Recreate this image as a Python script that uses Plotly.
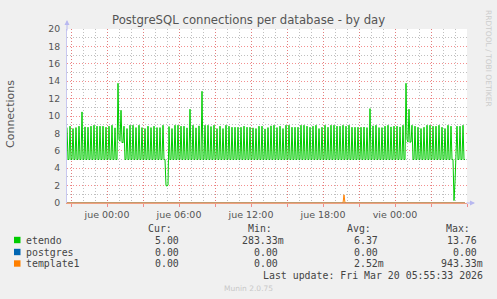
import plotly.graph_objects as go
import pandas as pd

# ---------------- data (5-minute samples) ----------------
start_time = "2026-03-18 20:40"
end_time = "2026-03-20 06:00"

etendo = [
    8.67, 5, 5, 8.83, 5, 5, 8.56, 5, 5, 8.67, 5, 5,
    8.83, 5, 5, 10.47, 5, 5, 8.75, 5, 5, 8.71, 5, 5,
    8.83, 5, 5, 8.94, 5, 5, 8.83, 5, 5, 8.83, 5, 5,
    8.83, 5, 5, 8.71, 5, 5, 8.83, 5, 5, 8.94, 5, 5,
    8.64, 5, 5, 13.76, 7.3, 7.1, 10.66, 7.0, 6.9, 8.83, 5, 5,
    8.56, 5, 5, 8.94, 5, 5, 8.94, 5, 5, 8.67, 5, 5,
    8.94, 5, 5, 8.67, 5, 5, 8.56, 5, 5, 8.83, 5, 5,
    8.67, 5, 5, 8.83, 5, 5, 8.67, 5, 5, 8.67, 5, 5,
    8.94, 5, 5, 2.0, 1.95, 2.05, 8.79, 5, 5, 8.56, 5, 5,
    8.94, 5, 5, 8.94, 5, 5, 8.83, 5, 5, 8.83, 5, 5,
    8.64, 5, 5, 10.78, 5, 5, 8.94, 5, 5, 8.64, 5, 5,
    8.87, 5, 5, 12.84, 5, 5, 8.94, 5, 5, 8.94, 5, 5,
    8.79, 5, 5, 8.94, 5, 5, 8.56, 5, 5, 8.83, 5, 5,
    8.56, 5, 5, 8.94, 5, 5, 8.83, 5, 5, 8.71, 5, 5,
    8.71, 5, 5, 8.71, 5, 5, 8.71, 5, 5, 8.83, 5, 5,
    8.71, 5, 5, 8.71, 5, 5, 8.64, 5, 5, 8.56, 5, 5,
    8.83, 5, 5, 8.83, 5, 5, 8.52, 5, 5, 8.67, 5, 5,
    8.87, 5, 5, 8.94, 5, 5, 8.67, 5, 5, 8.83, 5, 5,
    8.56, 5, 5, 8.94, 5, 5, 8.94, 5, 5, 8.71, 5, 5,
    8.71, 5, 5, 8.71, 5, 5, 8.94, 5, 5, 8.94, 5, 5,
    8.83, 5, 5, 8.71, 5, 5, 8.83, 5, 5, 8.94, 5, 5,
    8.56, 5, 5, 8.71, 5, 5, 8.94, 5, 5, 8.71, 5, 5,
    8.94, 5, 5, 8.94, 5, 5, 8.83, 5, 5, 8.83, 5, 5,
    8.94, 5, 5, 8.83, 5, 5, 8.94, 5, 5, 8.71, 5, 5,
    8.71, 5, 5, 8.71, 5, 5, 8.71, 5, 5, 8.73, 5, 5,
    8.67, 5, 5, 10.85, 5, 5, 8.87, 5, 5, 8.94, 5, 5,
    8.67, 5, 5, 8.67, 5, 5, 8.83, 5, 5, 8.94, 5, 5,
    8.75, 5, 5, 8.83, 5, 5, 8.83, 5, 5, 8.75, 5, 5,
    8.94, 5, 5, 13.76, 7.3, 7.0, 10.78, 7.0, 7.0, 8.94, 5, 5,
    8.83, 5, 5, 8.71, 5, 5, 8.56, 5, 5, 8.71, 5, 5,
    8.94, 5, 5, 8.94, 5, 5, 8.83, 5, 5, 8.83, 5, 5,
    8.94, 5, 5, 8.71, 5, 5, 8.56, 5, 5, 8.94, 5, 5,
    8.83, 5, 5, 0.28, 2.4, 5.5, 8.83, 5, 5, 8.83, 5, 5,
    8.94, 5, 5,
]

postgres = [
    0, 0, 0, 0, 0, 0, 0, 0, 0, 0, 0, 0, 0, 0, 0, 0, 0, 0, 0, 0,
    0, 0, 0, 0, 0, 0, 0, 0, 0, 0, 0, 0, 0, 0, 0, 0, 0, 0, 0, 0,
    0, 0, 0, 0, 0, 0, 0, 0, 0, 0, 0, 0, 0, 0, 0, 0, 0, 0, 0, 0,
    0, 0, 0, 0, 0, 0, 0, 0, 0, 0, 0, 0, 0, 0, 0, 0, 0, 0, 0, 0,
    0, 0, 0, 0, 0, 0, 0, 0, 0, 0, 0, 0, 0, 0, 0, 0, 0, 0, 0, 0,
    0, 0, 0, 0, 0, 0, 0, 0, 0, 0, 0, 0, 0, 0, 0, 0, 0, 0, 0, 0,
    0, 0, 0, 0, 0, 0, 0, 0, 0, 0, 0, 0, 0, 0, 0, 0, 0, 0, 0, 0,
    0, 0, 0, 0, 0, 0, 0, 0, 0, 0, 0, 0, 0, 0, 0, 0, 0, 0, 0, 0,
    0, 0, 0, 0, 0, 0, 0, 0, 0, 0, 0, 0, 0, 0, 0, 0, 0, 0, 0, 0,
    0, 0, 0, 0, 0, 0, 0, 0, 0, 0, 0, 0, 0, 0, 0, 0, 0, 0, 0, 0,
    0, 0, 0, 0, 0, 0, 0, 0, 0, 0, 0, 0, 0, 0, 0, 0, 0, 0, 0, 0,
    0, 0, 0, 0, 0, 0, 0, 0, 0, 0, 0, 0, 0, 0, 0, 0, 0, 0, 0, 0,
    0, 0, 0, 0, 0, 0, 0, 0, 0, 0, 0, 0, 0, 0, 0, 0, 0, 0, 0, 0,
    0, 0, 0, 0, 0, 0, 0, 0, 0, 0, 0, 0, 0, 0, 0, 0, 0, 0, 0, 0,
    0, 0, 0, 0, 0, 0, 0, 0, 0, 0, 0, 0, 0, 0, 0, 0, 0, 0, 0, 0,
    0, 0, 0, 0, 0, 0, 0, 0, 0, 0, 0, 0, 0, 0, 0, 0, 0, 0, 0, 0,
    0, 0, 0, 0, 0, 0, 0, 0, 0, 0, 0, 0, 0, 0, 0, 0, 0, 0, 0, 0,
    0, 0, 0, 0, 0, 0, 0, 0, 0, 0, 0, 0, 0, 0, 0, 0, 0, 0, 0, 0,
    0, 0, 0, 0, 0, 0, 0, 0, 0, 0, 0, 0, 0, 0, 0, 0, 0, 0, 0, 0,
    0, 0, 0, 0, 0, 0, 0, 0, 0, 0, 0, 0, 0, 0, 0, 0, 0, 0, 0,
]

template1 = [
    0, 0, 0, 0, 0, 0, 0, 0, 0, 0, 0, 0, 0, 0, 0, 0, 0, 0, 0, 0,
    0, 0, 0, 0, 0, 0, 0, 0, 0, 0, 0, 0, 0, 0, 0, 0, 0, 0, 0, 0,
    0, 0, 0, 0, 0, 0, 0, 0, 0, 0, 0, 0, 0, 0, 0, 0, 0, 0, 0, 0,
    0, 0, 0, 0, 0, 0, 0, 0, 0, 0, 0, 0, 0, 0, 0, 0, 0, 0, 0, 0,
    0, 0, 0, 0, 0, 0, 0, 0, 0, 0, 0, 0, 0, 0, 0, 0, 0, 0, 0, 0,
    0, 0, 0, 0, 0, 0, 0, 0, 0, 0, 0, 0, 0, 0, 0, 0, 0, 0, 0, 0,
    0, 0, 0, 0, 0, 0, 0, 0, 0, 0, 0, 0, 0, 0, 0, 0, 0, 0, 0, 0,
    0, 0, 0, 0, 0, 0, 0, 0, 0, 0, 0, 0, 0, 0, 0, 0, 0, 0, 0, 0,
    0, 0, 0, 0, 0, 0, 0, 0, 0, 0, 0, 0, 0, 0, 0, 0, 0, 0, 0, 0,
    0, 0, 0, 0, 0, 0, 0, 0, 0, 0, 0, 0, 0, 0, 0, 0, 0, 0, 0, 0,
    0, 0, 0, 0, 0, 0, 0, 0, 0, 0, 0, 0, 0, 0, 0, 0, 0, 0, 0, 0,
    0, 0, 0, 0, 0, 0, 0, 0, 0, 0, 0, 0, 0, 0, 0, 0, 0, 0, 0, 0,
    0, 0, 0, 0, 0, 0, 0, 0, 0, 0, 0, 0, 0, 0, 0, 0, 0, 0, 0, 0,
    0, 0, 0, 0, 0, 0, 0, 0, 0, 0, 0, 0, 0, 0, 0, 0, 0, 0.943, 0, 0,
    0, 0, 0, 0, 0, 0, 0, 0, 0, 0, 0, 0, 0, 0, 0, 0, 0, 0, 0, 0,
    0, 0, 0, 0, 0, 0, 0, 0, 0, 0, 0, 0, 0, 0, 0, 0, 0, 0, 0, 0,
    0, 0, 0, 0, 0, 0, 0, 0, 0, 0, 0, 0, 0, 0, 0, 0, 0, 0, 0, 0,
    0, 0, 0, 0, 0, 0, 0, 0, 0, 0, 0, 0, 0, 0, 0, 0, 0, 0, 0, 0,
    0, 0, 0, 0, 0, 0, 0, 0, 0, 0, 0, 0, 0, 0, 0, 0, 0, 0, 0, 0,
    0, 0, 0, 0, 0, 0, 0, 0, 0, 0, 0, 0, 0, 0, 0, 0, 0, 0, 0,
]

x_tick_times = ["2026-03-18 21:00", "2026-03-19 00:00", "2026-03-19 03:00",
                "2026-03-19 06:00", "2026-03-19 09:00", "2026-03-19 12:00",
                "2026-03-19 15:00", "2026-03-19 18:00", "2026-03-19 21:00",
                "2026-03-20 00:00", "2026-03-20 03:00", "2026-03-20 06:00"]
x_tick_text = ["", "jue 00:00", "", "jue 06:00", "", "jue 12:00",
               "", "jue 18:00", "", "vie 00:00", "", ""]

series_names = ["etendo", "postgres", "template1"]
series_colors = ["#00CC00", "#0066B3", "#FF8000"]
cur_vals = ["5.00", "0.00", "0.00"]
min_vals = ["283.33m", "0.00", "0.00"]
avg_vals = ["6.37", "0.00", "2.52m"]
max_vals = ["13.76", "0.00", "943.33m"]
last_update = "Last update: Fri Mar 20 05:55:33 2026"

n = len(etendo)
times = pd.date_range(start_time, periods=n, freq="5min")

# ---------------- geometry helpers ----------------
W, H = 497, 299
L, R, T, B = 67, 30, 29, 96
PW, PH = W - L - R, H - T - B


def pxx(x):
    return (x - L) / PW


def pxy(y):
    return (T + PH - y) / PH


fig = go.Figure()
for name, vals, col in zip(series_names, [etendo, postgres, template1], series_colors):
    fig.add_trace(go.Scatter(x=times, y=vals[:n], mode="lines", name=name,
                             line=dict(color=col, width=1), hoverinfo="skip",
                             showlegend=False))

RED = "rgba(240,100,100,0.72)"
GRAY = "rgba(150,150,150,0.6)"

fig.update_layout(
    width=W, height=H, margin=dict(l=L, r=R, t=T, b=B, pad=0),
    paper_bgcolor="#F0F0F0", plot_bgcolor="#FFFFFF",
    font=dict(family="DejaVu Sans", color="#555555"),
    xaxis=dict(type="date", range=[start_time, end_time],
               tickmode="array", tickvals=x_tick_times, ticktext=x_tick_text,
               ticks="outside", ticklen=3, tickcolor=RED,
               tickfont=dict(size=9.5, color="#555555"),
               showgrid=True, gridcolor=RED, griddash="1px,2px", gridwidth=1,
               minor=dict(dtick=3600000, showgrid=True, gridcolor=GRAY,
                          griddash="1px,2px", ticks=""),
               showline=True, linecolor="#F0A080", linewidth=1,
               zeroline=False, fixedrange=True),
    yaxis=dict(range=[0, 20], dtick=2, tick0=0,
               ticks="outside", ticklen=4, tickcolor="rgba(0,0,0,0)",
               tickfont=dict(size=9.3, color="#555555"),
               showgrid=True, gridcolor=RED, griddash="1px,2px", gridwidth=1,
               minor=dict(dtick=1, showgrid=True, gridcolor=GRAY,
                          griddash="1px,2px", ticks=""),
               showline=True, linecolor="#C8C8F0", linewidth=1,
               zeroline=False, fixedrange=True),
)

ann = []


def text(x, y, s, size=9.9, anchor="left", color="#444444", family="DejaVu Sans Mono", angle=0):
    ann.append(dict(x=pxx(x), y=pxy(y), xref="paper", yref="paper", text=s,
                    showarrow=False, xanchor=anchor, yanchor="middle",
                    font=dict(size=size, color=color, family=family),
                    borderpad=0, borderwidth=0, textangle=angle))


# title
text(248, 20, "PostgreSQL connections per database - by day", size=11.7,
     anchor="center", color="#555555", family="DejaVu Sans")
# y axis title
text(10, 114, "Connections", size=11, anchor="center", color="#555555",
     family="DejaVu Sans", angle=-90)
# right vertical credit
text(488, 58, "RRDTOOL / TOBI OETIKER", size=7.5, anchor="center",
     color="#CCCCCC", family="DejaVu Sans", angle=90)

# legend table
text(172, 228, "Cur:", anchor="right")
text(272, 228, "Min:", anchor="right")
text(371, 228, "Avg:", anchor="right")
text(470, 228, "Max:", anchor="right")

row_y = [240, 252, 263.5]


def right_edge(s, base):
    return base + (6 if s.endswith("m") else 0)


for k in range(3):
    y = row_y[k]
    text(26, y, series_names[k], anchor="left")
    text(179, y, cur_vals[k], anchor="right")
    text(right_edge(min_vals[k], 278), y, min_vals[k], anchor="right")
    text(right_edge(avg_vals[k], 378), y, avg_vals[k], anchor="right")
    text(right_edge(max_vals[k], 477), y, max_vals[k], anchor="right")

text(483, 275.5, last_update, anchor="right")
text(248, 288, "Munin 2.0.75", size=7.5, anchor="center", color="#C8C8C8",
     family="DejaVu Sans")

# axis arrows
ann.append(dict(x=pxx(67), y=pxy(20), xref="paper", yref="paper", text="",
                showarrow=True, ax=0, ay=12, arrowhead=2, arrowsize=1,
                arrowwidth=1, arrowcolor="#B8B8F0", standoff=0))
ann.append(dict(x=pxx(475), y=pxy(203), xref="paper", yref="paper", text="",
                showarrow=True, ax=-10, ay=0, arrowhead=2, arrowsize=1,
                arrowwidth=1, arrowcolor="#B8B8F0", standoff=0))

shapes = []
for k in range(3):
    shapes.append(dict(type="rect", xref="paper", yref="paper",
                       x0=pxx(14), x1=pxx(20.5), y0=pxy(row_y[k] + 3.2), y1=pxy(row_y[k] - 3.2),
                       fillcolor=series_colors[k], line=dict(width=0)))

fig.update_layout(annotations=ann, shapes=shapes)
fig.write_html("out.html")
